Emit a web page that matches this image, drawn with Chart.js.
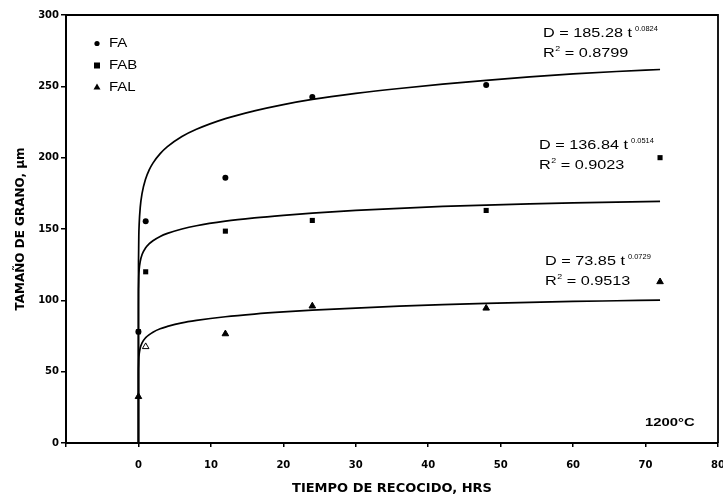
<!DOCTYPE html>
<html>
<head>
<meta charset="utf-8">
<script src="https://cdn.jsdelivr.net/npm/chart.js@4.4.1/dist/chart.umd.min.js"></script>
<style>
  html, body { margin: 0; padding: 0; background: #fff; }
  #wrap { width: 723px; height: 499px; position: relative; }
</style>
</head>
<body>
<div id="wrap"><canvas id="c" width="723" height="499"></canvas></div>
<script>
// ---- measured data (hours vs grain size, µm) ----
const tPoints = [0, 1, 12, 24, 48, 72];
const faValues  = [78, 155.5, 186, 242.5, 251, null];
const fabValues = [78, 120, 148.5, 156, 163, 200];
const falValues = [32.5, 67.5, 76.5, 96, 94.5, 113];
const falFill = ['#000', '#fff', '#000', '#000', '#000', '#000'];

// ---- fitted curves ----
const tCurve = [0, 0.001, 0.01, 0.05, 0.1, 0.25, 0.5, 1, 1.5, 2, 3, 4, 6, 8, 12, 16, 20, 24, 30, 36, 42, 48, 54, 60, 66, 72];
const faCurve  = [0, 104.9, 126.8, 144.8, 153.3, 165.3, 175.0, 185.3, 191.6, 196.2, 202.8, 207.7, 214.8, 219.9, 227.4, 232.8, 237.2, 240.8, 245.0, 248.5, 251.5, 254.2, 256.6, 258.7, 260.4, 261.8];
const fabCurve = [0, 95.9, 108.0, 117.3, 121.6, 127.4, 132.1, 136.8, 139.7, 141.8, 144.8, 146.9, 150.0, 152.3, 155.5, 157.8, 159.6, 161.1, 163.0, 164.5, 165.8, 166.8, 167.6, 168.3, 168.9, 169.4];
const falCurve = [0, 44.6, 52.8, 59.4, 62.4, 66.8, 70.2, 73.85, 76.0, 77.7, 80.1, 81.7, 84.2, 85.9, 88.5, 90.4, 91.9, 93.1, 94.6, 95.9, 97.0, 97.9, 98.6, 99.2, 99.7, 100.2];

const seriesLabels = ['FA', 'FAB', 'FAL'];
const xTicks = [-10, 0, 10, 20, 30, 40, 50, 60, 70, 80];
const yTicks = [0, 50, 100, 150, 200, 250, 300];
const xTitle = 'TIEMPO DE RECOCIDO, HRS';
const yTitle = 'TAMAÑO DE GRANO, µm';
const equations = [
  { d: 'D = 185.28 t', exp: '0.0824', r: '0.8799' },
  { d: 'D = 136.84 t', exp: '0.0514', r: '0.9023' },
  { d: 'D = 73.85 t',  exp: '0.0729', r: '0.9513' }
];
const tempLabel = '1200°C';

const pts = vals => tPoints.map((t, i) => ({ x: t, y: vals[i] })).filter(p => p.y !== null);
const crv = vals => tCurve.map((t, i) => ({ x: t, y: vals[i] }));

function stretchText(ctx, text, x, y, font, sx) {
  ctx.save();
  ctx.font = font;
  ctx.translate(x, y);
  ctx.scale(sx, 1);
  ctx.fillText(text, 0, 0);
  const w = ctx.measureText(text).width * sx;
  ctx.restore();
  return w;
}

const decor = {
  id: 'decor',
  afterDatasetsDraw(chart) {
    const ctx = chart.ctx;
    const a = chart.chartArea;
    ctx.save();
    // frame top & right
    ctx.strokeStyle = '#000';
    ctx.lineWidth = 1.8;
    ctx.beginPath();
    ctx.moveTo(a.left, a.top);
    ctx.lineTo(a.right, a.top);
    ctx.lineTo(a.right, a.bottom);
    ctx.stroke();

    ctx.fillStyle = '#000';
    ctx.textBaseline = 'middle';
    ctx.textAlign = 'left';
    // legend
    const lx = 97, ly = [43.5, 65.5, 87];
    ctx.beginPath(); ctx.arc(lx, ly[0], 2.6, 0, Math.PI * 2); ctx.fill();
    ctx.fillRect(lx - 3, ly[1] - 3, 6, 6);
    ctx.beginPath(); ctx.moveTo(lx, ly[2] - 3.5); ctx.lineTo(lx + 3.5, ly[2] + 2.5); ctx.lineTo(lx - 3.5, ly[2] + 2.5); ctx.closePath(); ctx.fill();
    const lfont = '12.5px "Liberation Sans", Arial, sans-serif';
    seriesLabels.forEach((s, i) => stretchText(ctx, s, 109, ly[i] + 0.5, lfont, 1.2));

    // equations
    const eqPos = [{ x: 543, y: 33 }, { x: 539, y: 145 }, { x: 545, y: 261 }];
    const ef = '13px "Liberation Sans", Arial, sans-serif';
    const sf = '6.5px "Liberation Sans", Arial, sans-serif';
    equations.forEach((e, i) => {
      const p = eqPos[i];
      const w = stretchText(ctx, e.d, p.x, p.y, ef, 1.25);
      stretchText(ctx, e.exp, p.x + w + 3, p.y - 4, sf, 1.15);
      const ry = p.y + 20;
      const wr = stretchText(ctx, 'R', p.x, ry, ef, 1.25);
      const w2 = stretchText(ctx, '2', p.x + wr + 0.5, ry - 4, '8px "Liberation Sans", Arial, sans-serif', 1.1);
      stretchText(ctx, ' = ' + e.r, p.x + wr + w2 + 0.5, ry, ef, 1.25);
    });

    // temperature
    stretchText(ctx, tempLabel, 645, 423, 'bold 11px "Liberation Sans", Arial, sans-serif', 1.35);
    ctx.restore();
  }
};

const lineStyle = { showLine: true, borderColor: '#000', borderWidth: 1.7, pointRadius: 0, cubicInterpolationMode: 'monotone' };

const ctx = document.getElementById('c').getContext('2d');
new Chart(ctx, {
  type: 'scatter',
  data: {
    datasets: [
      Object.assign({ label: 'FA fit', data: crv(faCurve) }, lineStyle),
      Object.assign({ label: 'FAB fit', data: crv(fabCurve) }, lineStyle),
      Object.assign({ label: 'FAL fit', data: crv(falCurve) }, lineStyle),
      { label: seriesLabels[0], data: pts(faValues), pointStyle: 'circle', pointRadius: 3, backgroundColor: '#000', borderColor: '#000', borderWidth: 0 },
      { label: seriesLabels[1], data: pts(fabValues), pointStyle: 'rect', pointRadius: 3.6, backgroundColor: '#000', borderColor: '#000', borderWidth: 0 },
      { label: seriesLabels[2], data: pts(falValues), pointStyle: 'triangle', pointRadius: 3.8, backgroundColor: falFill, borderColor: '#000', borderWidth: 1 }
    ]
  },
  options: {
    responsive: false,
    animation: false,
    layout: { padding: { left: 0, right: 4, top: 15, bottom: 0 } },
    plugins: { legend: { display: false }, tooltip: { enabled: false } },
    scales: {
      x: {
        type: 'linear',
        min: xTicks[0], max: xTicks[xTicks.length - 1],
        afterBuildTicks: s => { s.ticks = xTicks.map(v => ({ value: v })); },
        afterFit: s => { s.height = 56; s.paddingLeft = 0; s.paddingRight = 0; },
        border: { color: '#000', width: 2 },
        grid: { drawOnChartArea: false, drawTicks: true, tickLength: 4, color: '#000', lineWidth: 1.5 },
        ticks: {
          color: '#000', padding: 12, maxRotation: 0, autoSkip: false,
          font: { family: '"DejaVu Sans", sans-serif', weight: 'bold', size: 10 },
          callback: v => (v === xTicks[0] ? '' : String(v))
        },
        title: {
          display: true, text: xTitle, color: '#000',
          font: { family: '"DejaVu Sans", sans-serif', weight: 'bold', size: 13 },
          padding: { top: 0, bottom: 3 }
        }
      },
      y: {
        type: 'linear',
        min: yTicks[0], max: yTicks[yTicks.length - 1],
        afterBuildTicks: s => { s.ticks = yTicks.map(v => ({ value: v })); },
        afterFit: s => { s.width = 66; s.paddingTop = 0; s.paddingBottom = 0; },
        border: { color: '#000', width: 2 },
        grid: { drawOnChartArea: false, drawTicks: true, tickLength: 5, color: '#000', lineWidth: 1.5 },
        ticks: {
          color: '#000', padding: 2,
          font: { family: '"DejaVu Sans", sans-serif', weight: 'bold', size: 10 }
        },
        title: {
          display: true, text: yTitle, color: '#000',
          font: { family: '"DejaVu Sans", sans-serif', weight: 'bold', size: 12 },
          padding: { top: 14, bottom: 0 }
        }
      }
    }
  },
  plugins: [decor]
});
</script>
</body>
</html>
